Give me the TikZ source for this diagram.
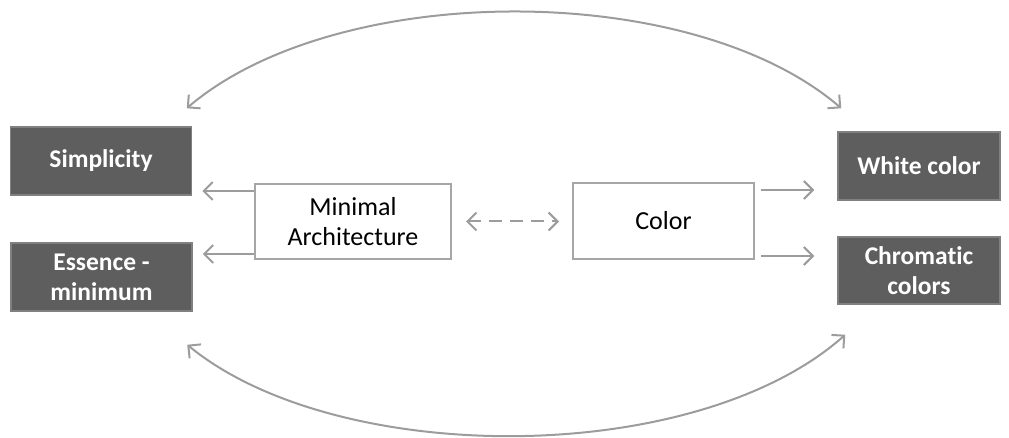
\documentclass[tikz,border=0pt]{standalone}
\usepackage{fontspec}
\setmainfont{Carlito}[Ligatures=NoCommon]
\usetikzlibrary{arrows.meta}
\definecolor{boxfill}{HTML}{5E5E5E}
\definecolor{boxedge}{HTML}{808080}
\definecolor{lightedge}{HTML}{A6A6A6}
\definecolor{linkgray}{HTML}{9C9C9C}
\begin{document}
\begin{tikzpicture}[x=1pt,y=-1pt,
  darkbox/.style={draw=boxedge, fill=boxfill, text=white, line width=1.5pt,
    inner sep=0pt, align=center, font=\bfseries\fontsize{25.5}{30}\selectfont},
  lightbox/.style={draw=lightedge, fill=white, text=black, line width=2pt,
    inner sep=0pt, align=center, font=\fontsize{26}{30}\selectfont},
  link/.style={draw=linkgray, line width=2pt, -{Straight Barb[length=9pt,width=18pt]}},
  dashlink/.style={draw=linkgray, line width=2pt, dash pattern=on 13pt off 8pt,
    {Straight Barb[length=9pt,width=18pt]}-{Straight Barb[length=9pt,width=18pt]}},
  arclink/.style={draw=linkgray, line width=2pt,
    {Straight Barb[length=9pt,width=18pt]}-{Straight Barb[length=9pt,width=18pt]}}]
\useasboundingbox (0,0) rectangle (1009,438);

% boxes
\node[darkbox, minimum width=181pt, minimum height=68pt] (simp) at (101,161) {Simplicity};
\node[darkbox, minimum width=181pt, minimum height=68pt] (ess) at (101.5,277) {Essence -\\minimum};
\node[lightbox, minimum width=196pt, minimum height=75pt] (ma) at (353,221.5) {Minimal\\Architecture};
\node[lightbox, minimum width=181pt, minimum height=76pt] (col) at (663.5,221) {Color};
\node[darkbox, minimum width=162pt, minimum height=68pt] (white) at (919,166) {White color};
\node[darkbox, minimum width=162pt, minimum height=67pt] (chrom) at (919,270.5) {Chromatic\\colors};

% start points of the horizontal links
\coordinate (l1) at ([yshift=-8pt]ma.north west);
\coordinate (l2) at ([yshift=6pt]ma.south west);
\coordinate (r1) at ([xshift=6pt,yshift=-8pt]col.north east);
\coordinate (r2) at ([xshift=6pt,yshift=4pt]col.south east);

% straight links
\draw[link, shorten >=10pt] (l1) -- (l1 -| simp.east);
\draw[link, shorten >=10pt] (l2) -- (l2 -| ess.east);
\draw[link, shorten >=23pt] (r1) -- (r1 -| white.west);
\draw[link, shorten >=23pt] (r2) -- (r2 -| chrom.west);
\draw[dashlink, shorten <=14pt, shorten >=13pt] (ma.east) -- (ma.east -| col.west);

% curved links between the outer boxes
\draw[arclink] ([xshift=-5.5pt,yshift=18pt]simp.north east)
  .. controls +(150,-128) and +(-150,-129) .. ([xshift=4pt,yshift=23pt]white.north west);
\draw[arclink] ([xshift=-5.5pt,yshift=-33pt]ess.south east)
  .. controls +(150,123) and +(-150,133) .. ([xshift=8pt,yshift=-30pt]chrom.south west);
\end{tikzpicture}
\end{document}
